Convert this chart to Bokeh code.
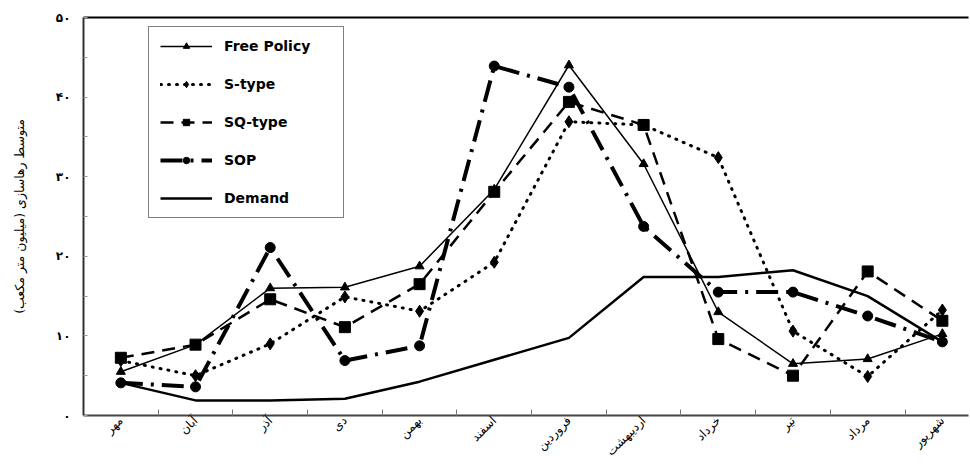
import math
from bokeh.plotting import figure
from bokeh.models import FixedTicker, LinearAxis, Legend, LegendItem, Range1d
from bokeh.embed import file_html
from bokeh.resources import INLINE

months = ["مهر", "آبان", "آذر", "دی", "بهمن", "اسفند", "فروردین",
          "اردیبهشت", "خرداد", "تیر", "مرداد", "شهریور"]
x = list(range(1, 13))

free_policy = [5.5, 8.9, 16.0, 16.1, 18.75, 28.4, 44.0, 31.6, 13.0, 6.5, 7.1, 10.25]
s_type = [6.9, 5.0, 9.0, 14.9, 13.1, 19.25, 36.9, 36.5, 32.4, 10.6, 4.9, 13.25]
sq_type = [7.25, 8.9, 14.6, 11.1, 16.5, 28.1, 39.4, 36.5, 9.6, 5.0, 18.1, 11.9]
sop = [4.1, 3.6, 21.1, 6.9, 8.75, 43.9, 41.25, 23.75, 15.5, 15.5, 12.5, 9.25]
demand = [4.1, 1.9, 1.9, 2.1, 4.25, 7.0, 9.75, 17.4, 17.4, 18.25, 15.0, 9.25]

y_ticks = [0, 10, 20, 30, 40, 50]
y_tick_labels = ["۰", "۱۰", "۲۰", "۳۰", "۴۰", "۵۰"]
y_title = "\u200fمتوسط رهاسازی (میلیون متر مکعب)\u200f"

FA = "DejaVu Sans"

p = figure(width=970, height=466, x_range=Range1d(0.5, 12.35), y_range=Range1d(0, 50),
           output_backend="svg", toolbar_location=None,
           min_border_left=83, min_border_right=2, min_border_top=17, min_border_bottom=49)
p.outline_line_color = None
p.grid.visible = False
p.background_fill_color = "white"

# x axis
xa = p.xaxis[0]
xa.ticker = FixedTicker(ticks=x, minor_ticks=[i + 0.5 for i in range(1, 12)])
xa.major_label_overrides = {i + 1: m for i, m in enumerate(months)}
xa.major_tick_line_color = None
xa.major_tick_out = 0
xa.major_tick_in = 0
xa.minor_tick_in = 6
xa.minor_tick_out = 0
xa.minor_tick_line_color = "#777777"
xa.axis_line_color = "#444444"
xa.axis_line_width = 2
xa.major_label_orientation = math.pi / 4
xa.major_label_text_font = FA
xa.major_label_text_font_size = "12px"
xa.major_label_text_color = "black"
xa.major_label_standoff = 3

# y axis
ya = p.yaxis[0]
ya.ticker = FixedTicker(ticks=y_ticks, minor_ticks=[5, 15, 25, 35, 45])
ya.major_label_overrides = {t: l for t, l in zip(y_ticks, y_tick_labels)}
ya.major_tick_in = 4
ya.major_tick_out = 0
ya.minor_tick_in = 4
ya.minor_tick_out = 0
ya.major_tick_line_color = "#999999"
ya.minor_tick_line_color = "#999999"
ya.axis_line_color = "#333333"
ya.axis_line_width = 2
ya.major_label_text_font = FA
ya.major_label_text_font_size = "12px"
ya.major_label_text_font_style = "bold"
ya.major_label_text_color = "black"
ya.major_label_standoff = 13
ya.axis_label = y_title
ya.axis_label_text_font = FA
ya.axis_label_text_font_style = "normal"
ya.axis_label_text_font_size = "12.5px"
ya.axis_label_text_color = "black"
ya.axis_label_standoff = 26

# top line
top = LinearAxis(ticker=FixedTicker(ticks=[]), major_label_text_font_size="0px",
                 axis_line_width=2, axis_line_color="black",
                 major_tick_line_color=None, minor_tick_line_color=None)
p.add_layout(top, "above")

# series
d_line = p.line(x, demand, line_width=2.5, color="black")

sop_line = p.line(x, sop, line_width=4, color="black", line_dash="22 8 3 8")
sop_mk = p.scatter(x, sop, marker="circle", size=10, color="black")

sq_line = p.line(x, sq_type, line_width=2.5, color="black", line_dash="13 8")
sq_mk = p.scatter(x, sq_type, marker="square", size=11, color="black")

s_line = p.line(x, s_type, line_width=3, color="black", line_dash="1 7", line_cap="round")
s_mk = p.scatter(x, s_type, marker="diamond", size=12, color="black")

f_line = p.line(x, free_policy, line_width=1.5, color="black")
f_mk = p.scatter(x, free_policy, marker="triangle", size=9, color="black")

legend = Legend(items=[
    LegendItem(label="Free Policy", renderers=[f_line, f_mk]),
    LegendItem(label="S-type", renderers=[s_line, s_mk]),
    LegendItem(label="SQ-type", renderers=[sq_line, sq_mk]),
    LegendItem(label="SOP", renderers=[sop_line, sop_mk]),
    LegendItem(label="Demand", renderers=[d_line]),
], location=(65, 197))
legend.padding = 11
legend.spacing = 22
legend.margin = 0
legend.glyph_width = 52
legend.glyph_height = 16
legend.label_height = 16
legend.label_width = 108
legend.label_standoff = 12
legend.border_line_color = "black"
legend.border_line_width = 1.5
legend.label_text_font = FA
legend.label_text_font_style = "bold"
legend.label_text_font_size = "14px"
legend.label_text_color = "black"
legend.background_fill_alpha = 1
p.add_layout(legend, "center")

open("out.html", "w").write(file_html(p, INLINE))
